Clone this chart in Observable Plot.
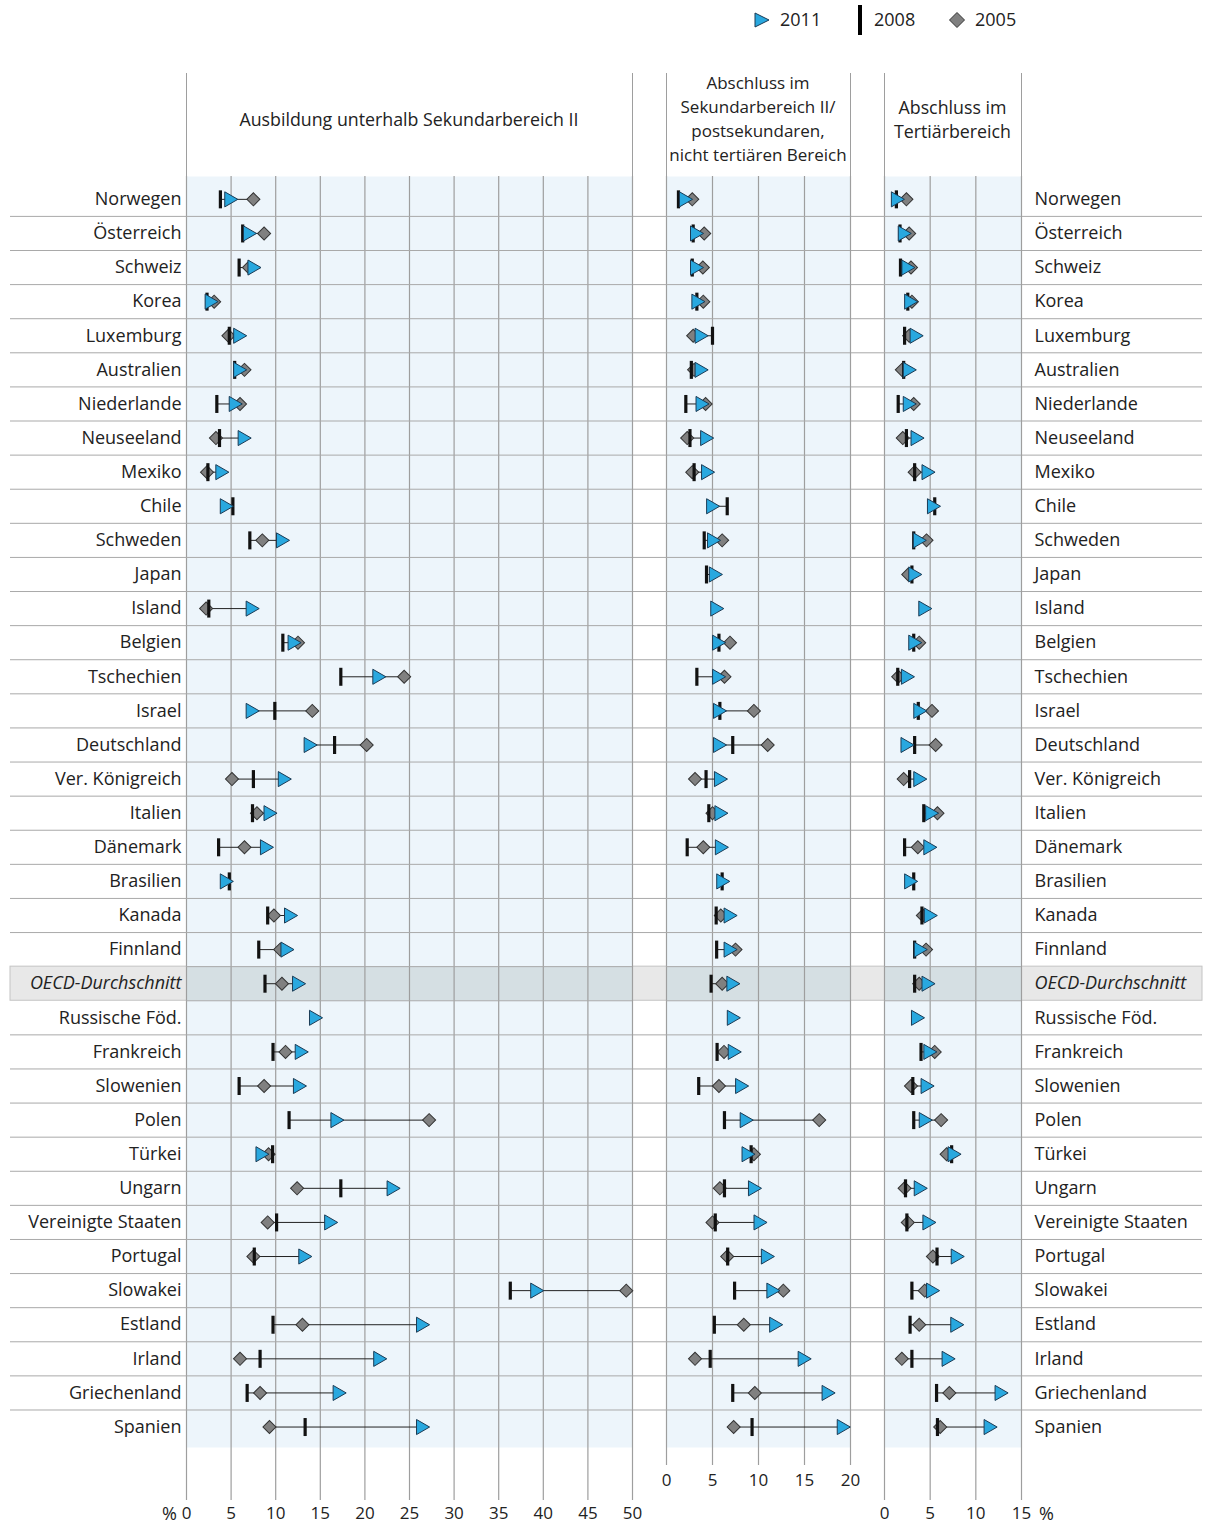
<!DOCTYPE html>
<html>
<head>
<meta charset="utf-8">
<script src="https://cdn.jsdelivr.net/npm/d3@7"></script>
<script src="https://cdn.jsdelivr.net/npm/@observablehq/plot@0.6"></script>
<style>
  html, body { margin: 0; padding: 0; background: #fff; }
  #root { position: relative; width: 1208px; height: 1525px; font-family: 'Open Sans', sans-serif; color: #222; overflow: hidden; }
  #root svg { position: absolute; left: 0; top: 0; }
  .hdr { position: absolute; top: 73px; height: 103px; box-sizing: border-box; border-left: 1px solid #9e9e9e; border-right: 1px solid #9e9e9e;
         display: flex; align-items: center; justify-content: center; text-align: center; font-size: 17.8px; line-height: 24px; padding-bottom: 11px; white-space: nowrap; }
  .hdr.narrow { font-size: 17px; }
  .hdr span { display: block; }
  .pct { position: absolute; font-size: 18px; top: 1501px; }
  .leg { position: absolute; top: 7px; font-size: 18px; }
</style>
</head>
<body>
<div id="root"></div>
<script>
// ---------- data ----------
const countries = ["Norwegen","Österreich","Schweiz","Korea","Luxemburg","Australien","Niederlande","Neuseeland","Mexiko","Chile","Schweden","Japan","Island","Belgien","Tschechien","Israel","Deutschland","Ver. Königreich","Italien","Dänemark","Brasilien","Kanada","Finnland","OECD-Durchschnitt","Russische Föd.","Frankreich","Slowenien","Polen","Türkei","Ungarn","Vereinigte Staaten","Portugal","Slowakei","Estland","Irland","Griechenland","Spanien"];
const highlightRow = "OECD-Durchschnitt";

const panelTitles = [
  ["Ausbildung unterhalb Sekundarbereich II"],
  ["Abschluss im", "Sekundarbereich II/", "postsekundaren,", "nicht tertiären Bereich"],
  ["Abschluss im", "Tertiärbereich"]
];
const legendLabels = ["2011", "2008", "2005"];

// Panel 1: Ausbildung unterhalb Sekundarbereich II
const p1_2011 = [5.0,7.1,7.6,2.8,6.0,6.0,5.5,6.5,4.0,4.5,10.8,null,7.4,12.1,21.6,7.4,13.9,11.0,9.4,9.0,4.5,11.7,11.3,12.6,14.5,12.9,12.7,16.9,8.5,23.2,16.2,13.3,39.3,26.5,21.7,17.15,26.5];
const p1_2008 = [3.8,6.3,5.9,2.3,4.8,5.4,3.4,3.7,2.4,5.2,7.1,null,2.5,10.8,17.3,9.9,16.6,7.5,7.4,3.6,4.8,9.1,8.1,8.8,null,9.7,5.9,11.5,9.65,17.3,10.1,7.6,36.3,9.7,8.25,6.8,13.3];
const p1_2005 = [7.5,8.7,7.0,3.1,4.7,6.5,6.0,3.3,2.3,null,8.5,null,2.2,12.5,24.4,14.1,20.2,5.1,7.9,6.5,null,9.8,10.5,10.7,null,11.1,8.7,27.2,9.2,12.4,9.1,7.5,49.3,13.0,6.0,8.25,9.3];

// Panel 2: Abschluss im Sekundarbereich II / postsekundaren, nicht tertiären Bereich
const p2_2011 = [2.1,3.3,3.3,3.45,3.8,3.8,3.9,4.4,4.5,5.05,5.15,5.35,5.5,5.7,5.7,5.8,5.8,5.9,5.95,6.0,6.15,6.95,6.95,7.25,7.3,7.4,8.2,8.7,8.9,9.6,10.2,11.0,11.6,11.9,15.0,17.6,19.25];
const p2_2008 = [1.3,2.9,2.8,3.3,5.0,2.7,2.1,2.55,3.0,6.6,4.1,4.35,null,5.7,3.3,5.8,7.2,4.3,4.6,2.25,6.05,5.4,5.45,4.85,null,5.5,3.5,6.3,9.2,6.3,5.3,6.65,7.4,5.2,4.75,7.2,9.3];
const p2_2005 = [2.8,4.1,3.95,4.0,2.9,3.0,4.25,2.25,2.8,null,6.05,null,null,6.9,6.3,9.5,11.0,3.1,5.0,4.0,null,5.9,7.5,6.05,null,6.25,5.7,16.6,9.5,5.8,5.0,6.6,12.7,8.4,3.1,9.6,7.3];

// Panel 3: Abschluss im Tertiärbereich
const p3_2011 = [1.45,2.2,2.6,2.9,3.5,2.75,2.75,3.6,4.8,5.4,3.85,3.35,4.45,3.35,2.55,3.9,2.5,3.9,5.2,5.0,2.9,5.05,3.95,4.8,3.65,5.0,4.7,4.5,7.65,3.95,4.9,8.0,5.3,7.95,7.0,12.8,11.6];
const p3_2008 = [1.3,1.7,1.75,2.55,2.2,2.1,1.5,2.4,3.3,5.5,3.2,3.0,null,3.2,1.45,3.7,3.3,2.75,4.3,2.2,3.2,4.1,3.3,3.3,null,4.0,3.1,3.2,7.35,2.3,2.45,5.75,3.0,2.8,3.0,5.7,5.8];
const p3_2005 = [2.4,2.7,2.9,3.0,2.7,1.9,3.2,2.0,3.3,null,4.6,2.6,null,3.8,1.5,5.2,5.6,2.1,5.8,3.65,null,4.2,4.55,3.8,null,5.5,2.9,6.2,6.8,2.2,2.55,5.3,4.4,3.8,1.9,7.1,6.1];

const xMax = [50, 20, 15];
const xTicks = [d3.range(0, 51, 5), d3.range(0, 21, 5), d3.range(0, 16, 5)];

// ---------- styling ----------
const FONT = "'Open Sans', sans-serif";
const C = {
  panelBg: "#edf5fb", hiPanel: "#d5dfe3", hiLabel: "#e8e8e8", hiBorder: "#c4c4c4",
  grid: "#9e9e9e", sep: "#a9a9a9", text: "#222",
  tri: "#29a8df", triStroke: "#1b3b55", dia: "#808080", diaStroke: "#333", bar: "#111", link: "#222"
};
const W = 1208, H = 1525, MT = 176, MB = 78;
const yDomain = [-0.67, 36.6];
const nRows = countries.length;
const sepVals = d3.range(nRows - 1).map(i => i + 0.5);
const hiIndex = countries.indexOf(highlightRow);

const barSymbol = { draw(ctx) { ctx.moveTo(-1.6, -9); ctx.lineTo(1.6, -9); ctx.lineTo(1.6, 9); ctx.lineTo(-1.6, 9); ctx.closePath(); } };

const root = document.getElementById("root");
const baseStyle = { background: "none", fontFamily: FONT, fontSize: "18px", color: C.text, overflow: "visible" };

// ---------- background layer: row separators + highlight band across the full width ----------
const bg = Plot.plot({
  width: W, height: H, marginLeft: 10, marginRight: 6, marginTop: MT, marginBottom: MB,
  style: baseStyle,
  x: { domain: [0, 1], axis: null },
  y: { domain: yDomain, reverse: true, axis: null },
  marks: [
    Plot.rect([hiIndex], { x1: 0, x2: 1, y1: d => d - 0.5, y2: d => d + 0.5, fill: C.hiLabel, stroke: C.hiBorder }),
    Plot.ruleY(sepVals.filter(v => Math.abs(v - hiIndex) !== 0.5), { stroke: C.sep })
  ]
});
root.appendChild(bg);

// ---------- panels ----------
function panel(k, v11, v08, v05, marginLeft, marginRight, tickSize, tickPadding, labelSide) {
  const rows = countries.map((name, i) => ({ i, name, a: v11[i], b: v08[i], c: v05[i] }));
  const withLine = rows.filter(d => [d.a, d.b, d.c].filter(v => v != null).length >= 2);
  const marks = [
    Plot.frame({ fill: C.panelBg, stroke: null }),
    Plot.rect([hiIndex], { x1: 0, x2: xMax[k], y1: d => d - 0.5, y2: d => d + 0.5, fill: C.hiPanel }),
    Plot.gridX(xTicks[k], { stroke: C.grid, strokeOpacity: 1, strokeWidth: 1.2 }),
    Plot.ruleY(sepVals, { stroke: C.sep }),
    Plot.axisX({ ticks: xTicks[k], tickSize, tickPadding, stroke: C.grid, strokeOpacity: 1, strokeWidth: 1.2, fill: C.text, fontSize: 17 }),
    Plot.link(withLine, {
      x1: d => d3.min([d.a, d.b, d.c].filter(v => v != null)),
      x2: d => d3.max([d.a, d.b, d.c].filter(v => v != null)),
      y1: "i", y2: "i", stroke: C.link, strokeWidth: 1
    }),
    Plot.dot(rows.filter(d => d.c != null), { x: "c", y: "i", symbol: "square", rotate: 45, r: 5.2, fill: C.dia, stroke: C.diaStroke, strokeWidth: 1 }),
    Plot.dot(rows.filter(d => d.b != null), { x: "b", y: "i", symbol: barSymbol, fill: C.bar, stroke: "none" }),
    Plot.dot(rows.filter(d => d.a != null), { x: "a", y: "i", symbol: "triangle", rotate: 90, r: 5.6, dx: -2, fill: C.tri, stroke: C.triStroke, strokeWidth: 1 })
  ];
  if (labelSide) {
    const left = labelSide === "left";
    const opts = { y: "i", text: "name", frameAnchor: left ? "left" : "right", textAnchor: left ? "end" : "start", dx: left ? -5 : 13, fill: C.text, fontSize: 18 };
    marks.push(Plot.text(rows.filter(d => d.name !== highlightRow), opts));
    marks.push(Plot.text(rows.filter(d => d.name === highlightRow), { ...opts, fontStyle: "italic" }));
  }
  return Plot.plot({
    width: W, height: H, marginLeft, marginRight, marginTop: MT, marginBottom: MB,
    style: baseStyle,
    x: { domain: [0, xMax[k]] },
    y: { domain: yDomain, reverse: true, axis: null },
    marks
  });
}

root.appendChild(panel(0, p1_2011, p1_2008, p1_2005, 186, W - 632, 53, 6, "left"));
root.appendChild(panel(1, p2_2011, p2_2008, p2_2005, 666, W - 850, 18, 8, null));
root.appendChild(panel(2, p3_2011, p3_2008, p3_2005, 884, W - 1021, 53, 6, "right"));

// ---------- panel headers ----------
const hdrPos = [[186, 632], [666, 850], [884, 1021]];
panelTitles.forEach((lines, k) => {
  const d = document.createElement("div");
  d.className = k === 1 ? "hdr narrow" : "hdr";
  d.style.left = (hdrPos[k][0] - 0.5) + "px";
  d.style.width = (hdrPos[k][1] - hdrPos[k][0] + 1) + "px";
  const inner = document.createElement("div");
  lines.forEach(t => { const s = document.createElement("span"); s.textContent = t; inner.appendChild(s); });
  d.appendChild(inner);
  root.appendChild(d);
});

// ---------- % unit labels ----------
[[162, "%"], [1039, "%"]].forEach(([x, t]) => {
  const s = document.createElement("div"); s.className = "pct"; s.style.left = x + "px"; s.textContent = t; root.appendChild(s);
});

// ---------- legend ----------
const legendIcons = [
  `<svg width="18" height="18" viewBox="-9 -9 18 18" style="position:static"><path d="M-6,-7 L8,0 L-6,7 Z" fill="${C.tri}" stroke="${C.triStroke}" stroke-width="1"/></svg>`,
  `<svg width="6" height="30" viewBox="0 0 6 30" style="position:static"><rect x="1" y="0" width="4" height="30" fill="#000"/></svg>`,
  `<svg width="18" height="18" viewBox="-9 -9 18 18" style="position:static"><path d="M0,-7.5 L7.5,0 L0,7.5 L-7.5,0 Z" fill="${C.dia}" stroke="${C.diaStroke}" stroke-width="1"/></svg>`
];
const legendX = [[752, 780], [857, 874], [948, 975]];
const legendY = [11, 5, 11];
legendLabels.forEach((lab, k) => {
  const ic = document.createElement("div");
  ic.style.position = "absolute"; ic.style.left = legendX[k][0] + "px"; ic.style.top = legendY[k] + "px";
  ic.innerHTML = legendIcons[k];
  root.appendChild(ic);
  const t = document.createElement("div");
  t.className = "leg"; t.style.left = legendX[k][1] + "px"; t.textContent = lab;
  root.appendChild(t);
});
</script>
</body>
</html>
